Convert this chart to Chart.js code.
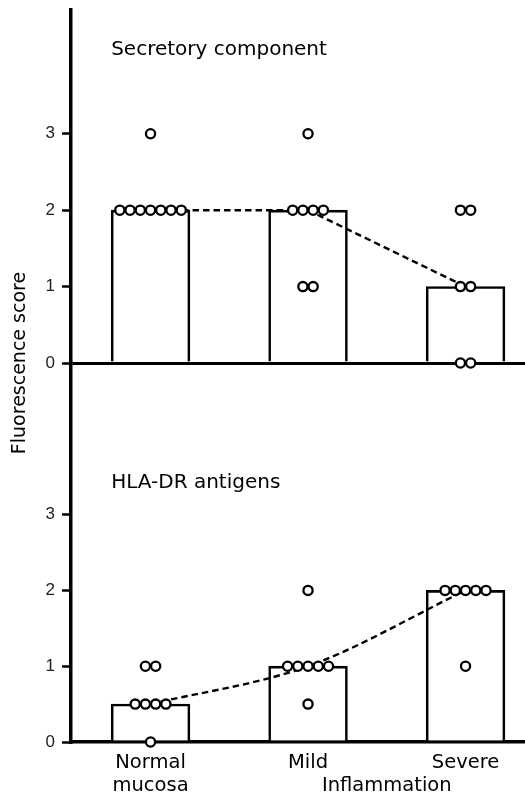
<!DOCTYPE html>
<html>
<head>
<meta charset="utf-8">
<script src="https://cdn.jsdelivr.net/npm/chart.js@4"></script>
<style>
  html, body { margin: 0; padding: 0; background: #fff; }
  #wrap { width: 525px; height: 797px; }
</style>
</head>
<body>
<div id="wrap"><canvas id="grafico"></canvas></div>
<script>
// Categorias no eixo x (posição 0, 1, 2)
const categorias = ['Normal mucosa', 'Mild', 'Severe'];
const xPos = [0, 1, 2];
const xTicks = [0, 1, 1.5, 2];
const xLabels = [['Normal', 'mucosa'], ['Mild'], ['', 'Inflammation'], ['Severe']];
const yTicks = [0, 1, 2, 3];

const tituloY = 'Fluorescence score';
const tituloSC = 'Secretory component';
const tituloDR = 'HLA-DR antigens';

// Secretory component: scores individuais e mediana (barra)
const scNormal = [3, 2, 2, 2, 2, 2, 2, 2];
const scMild = [3, 2, 2, 2, 2, 1, 1];
const scSevere = [2, 2, 1, 1, 0, 0];
const scMediana = [2, 2, 1];

// HLA-DR antigens
const drNormal = [1, 1, 0.5, 0.5, 0.5, 0.5, 0];
const drMild = [2, 1, 1, 1, 1, 1, 0.5];
const drSevere = [2, 2, 2, 2, 2, 1];
const drMediana = [0.5, 1, 2];

// Espalha pontos com o mesmo valor lado a lado (dot plot)
const PASSO = 0.065;
function espalhar(valores, xc) {
  const grupos = {};
  valores.forEach(v => { (grupos[v] = grupos[v] || []).push(v); });
  const pts = [];
  Object.keys(grupos).forEach(k => {
    const n = grupos[k].length;
    for (let i = 0; i < n; i++) {
      pts.push({ x: xc + (i - (n - 1) / 2) * PASSO, y: Number(k) });
    }
  });
  return pts;
}

const pontosSC = [scNormal, scMild, scSevere].flatMap((v, i) => espalhar(v, xPos[i]));
const pontosDR = [drNormal, drMild, drSevere].flatMap((v, i) => espalhar(v, xPos[i]));

// largura da barra = menor intervalo entre ticks (0.5 unidade)
const barra = (med, eixo) => ({
  type: 'bar',
  data: xPos.map((x, i) => ({ x, y: med[i] })),
  yAxisID: eixo,
  backgroundColor: '#fff',
  borderColor: '#000',
  borderWidth: 2.6,
  grouped: false,
  barPercentage: 1,
  categoryPercentage: 1,
  order: 3
});

const linha = (med, eixo, curva) => ({
  type: 'line',
  data: xPos.map((x, i) => ({ x, y: med[i] })),
  yAxisID: eixo,
  borderColor: '#000',
  borderWidth: 2.4,
  borderDash: [6.5, 4],
  pointRadius: 0,
  fill: false,
  tension: 0,
  cubicInterpolationMode: curva ? 'monotone' : 'default',
  order: 2
});

const pontos = (pts, eixo) => ({
  type: 'scatter',
  data: pts,
  yAxisID: eixo,
  pointRadius: 4.6,
  pointBorderWidth: 2.3,
  pointBackgroundColor: '#fff',
  pointBorderColor: '#000',
  clip: false,
  order: 1
});

const eixoY = (max, peso, zeroLinha) => ({
  type: 'linear',
  position: 'left',
  stack: 'paineis',
  stackWeight: peso,
  min: 0,
  max: max,
  afterBuildTicks: s => { s.ticks = yTicks.map(v => ({ value: v })); },
  afterFit: s => { s.width = 71; s.paddingTop = 0; s.paddingBottom = 0; },
  ticks: {
    color: '#222',
    padding: 7,
    font: { family: '"Liberation Sans", Arial, sans-serif', size: 17 }
  },
  grid: {
    drawOnChartArea: zeroLinha,
    color: ctx => (zeroLinha && ctx.tick && ctx.tick.value === 0) ? '#000' : 'rgba(0,0,0,0)',
    lineWidth: 3,
    tickLength: 9,
    tickWidth: 2.5,
    tickColor: '#000'
  },
  border: { display: true, color: '#000', width: 3.5 }
});

const textos = {
  id: 'textos',
  afterDraw(chart) {
    const { ctx, scales } = chart;
    const { x, yT, yB } = scales;
    ctx.save();
    ctx.fillStyle = '#000';
    ctx.font = '20px "DejaVu Sans"';
    ctx.textBaseline = 'middle';
    ctx.textAlign = 'left';
    ctx.fillText(tituloSC, x.getPixelForValue(-0.25), yT.getPixelForValue(4.1));
    ctx.fillText(tituloDR, x.getPixelForValue(-0.25), yB.getPixelForValue(3.42));
    ctx.translate(20, yT.bottom);
    ctx.rotate(-Math.PI / 2);
    ctx.textAlign = 'center';
    ctx.font = '19px "DejaVu Sans"';
    ctx.fillText(tituloY, 0, 0);
    ctx.restore();
  }
};

const ctx = document.getElementById('grafico').getContext('2d');
const chart = new Chart(ctx, {
  type: 'bar',
  data: {
    datasets: [
      barra(scMediana, 'yT'),
      barra(drMediana, 'yB'),
      linha(scMediana, 'yT', false),
      linha(drMediana, 'yB', true),
      pontos(pontosSC, 'yT'),
      pontos(pontosDR, 'yB')
    ]
  },
  options: {
    responsive: true,
    maintainAspectRatio: false,
    animation: false,
    layout: { autoPadding: false, padding: { top: 10, left: 0, right: 0, bottom: 0 } },
    plugins: { legend: { display: false }, tooltip: { enabled: false } },
    scales: {
      x: {
        type: 'linear',
        offset: false,
        min: -0.505,
        max: 2.3775,
        afterBuildTicks: s => { s.ticks = xTicks.map(v => ({ value: v })); },
        afterFit: s => { s.height = 55; },
        ticks: {
          autoSkip: false,
          maxRotation: 0,
          minRotation: 0,
          padding: 1.8,
          color: '#000',
          font: { family: '"DejaVu Sans", sans-serif', size: 19.5, lineHeight: 1.15 },
          callback: (v, i) => xLabels[i]
        },
        grid: { display: false },
        border: { display: true, color: '#000', width: 3.5 }
      },
      yB: eixoY(5.0, 379, false),
      yT: eixoY(4.62, 353, true)
    }
  },
  plugins: [textos]
});
</script>
</body>
</html>
